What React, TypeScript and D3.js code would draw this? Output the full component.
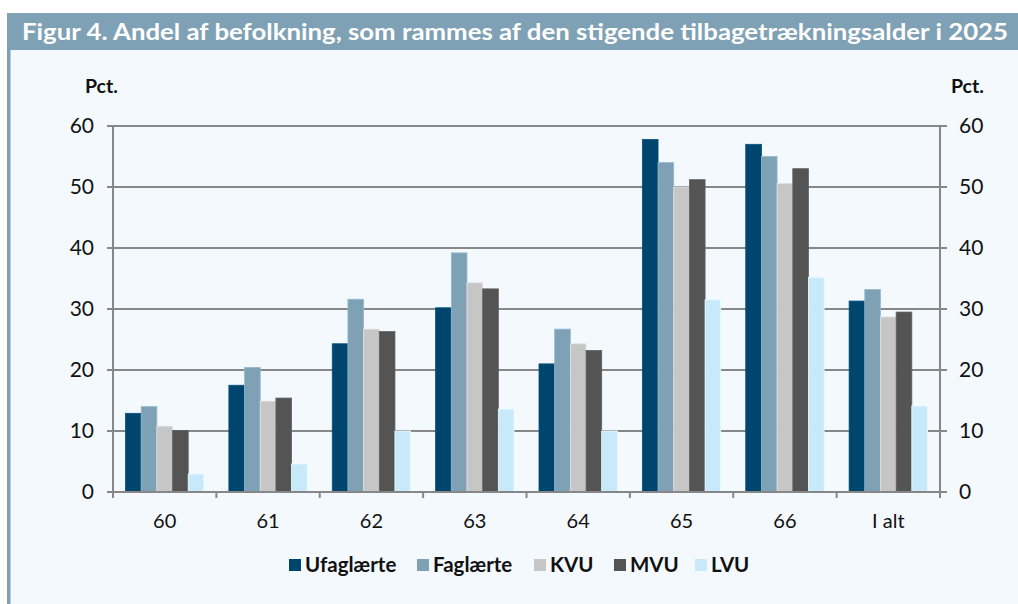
import React from "react";
import * as d3 from "d3";

const categories = ["60", "61", "62", "63", "64", "65", "66", "I alt"];
const seriesNames = ["Ufaglærte", "Faglærte", "KVU", "MVU", "LVU"];
const ufaglaerte = [12.9, 17.5, 24.3, 30.2, 21.0, 57.8, 57.0, 31.3];
const faglaerte = [14.0, 20.4, 31.6, 39.2, 26.7, 54.0, 55.0, 33.2];
const kvu = [10.8, 14.9, 26.7, 34.3, 24.3, 50.0, 50.6, 28.7];
const mvu = [10.1, 15.4, 26.3, 33.3, 23.2, 51.2, 53.0, 29.5];
const lvu = [2.95, 4.6, 10.0, 13.6, 10.0, 31.5, 35.2, 14.1];
const yTicks = [0, 10, 20, 30, 40, 50, 60];
const colors = ["#00456e", "#7fa1b6", "#c6c6c6", "#545454", "#c8e9f9"];
const title = "Figur 4. Andel af befolkning, som rammes af den stigende tilbagetrækningsalder i 2025";

export default function App() {
  const W = 1018, H = 604;
  const left = 113, right = 940, top = 126, bottom = 492;
  const series = [ufaglaerte, faglaerte, kvu, mvu, lvu];
  const x = d3.scaleBand<string>().domain(categories).range([left, right]).paddingInner(0).paddingOuter(0);
  const inner = d3.scaleBand<number>().domain(d3.range(seriesNames.length)).range([12.5, x.bandwidth() - 12.5]);
  const y = d3.scaleLinear().domain([0, 60]).range([bottom, top]);
  const font = "Lato, 'Open Sans', sans-serif";
  const grid = "#878787";
  const legendX = [289, 417, 534, 614, 695];

  return (
    <svg width={W} height={H} style={{ position: "absolute", left: 0, top: 0, display: "block" }}>
      <rect x={0} y={0} width={W} height={H} fill="#ffffff" />
      <rect x={7} y={50} width={W - 7} height={H - 50} fill="#f4f9fe" />
      <rect x={7} y={50} width={3.5} height={H - 50} fill="#7fa1b5" />
      <rect x={7} y={13} width={W - 7} height={37} fill="#7fa1b5" />
      <text x={22} y={40} fill="#ffffff" fontFamily={font} fontWeight={700} fontSize={23}
        textLength={986} lengthAdjust="spacingAndGlyphs">{title}</text>

      <text x={85} y={93} fontFamily={font} fontWeight={700} fontSize={19.5} fill="#111">Pct.</text>
      <text x={951} y={93} fontFamily={font} fontWeight={700} fontSize={19.5} fill="#111">Pct.</text>

      {yTicks.map((t) => (
        <g key={t}>
          <line x1={left - 6} x2={right + 7} y1={y(t)} y2={y(t)} stroke={grid} strokeWidth={2} />
          <text x={94} y={y(t)} dy="0.35em" textAnchor="end" fontFamily={font} fontSize={21} fill="#111">{t}</text>
          <text x={959} y={y(t)} dy="0.35em" textAnchor="start" fontFamily={font} fontSize={21} fill="#111">{t}</text>
        </g>
      ))}

      {categories.map((c, i) => (
        <g key={c}>
          {series.map((s, j) => (
            <rect key={j} x={(x(c) as number) + (inner(j) as number)} y={y(s[i])}
              width={inner.bandwidth()} height={bottom - y(s[i])} fill={colors[j]}
              stroke={d3.color(colors[j])!.brighter(0.4).toString()} strokeWidth={0.8} />
          ))}
          <text x={(x(c) as number) + x.bandwidth() / 2} y={521} dy="0.35em" textAnchor="middle"
            fontFamily={font} fontSize={20} fill="#111">{c}</text>
        </g>
      ))}

      {[...categories.map((c) => x(c) as number), right].map((v, i) => (
        <line key={i} x1={v} x2={v} y1={bottom} y2={bottom + 6} stroke={grid} strokeWidth={2} />
      ))}
      <line x1={left} x2={left} y1={top - 1} y2={bottom + 1} stroke={grid} strokeWidth={2} />
      <line x1={right} x2={right} y1={top - 1} y2={bottom + 1} stroke={grid} strokeWidth={2} />
      <line x1={left - 6} x2={right + 7} y1={bottom} y2={bottom} stroke={grid} strokeWidth={2} />

      {seriesNames.map((n, j) => (
        <g key={n}>
          <rect x={legendX[j]} y={559} width={12} height={12} fill={colors[j]} />
          <text x={legendX[j] + 16} y={565} dy="0.36em" fontFamily={font} fontWeight={700} fontSize={20.5} fill="#111">{n}</text>
        </g>
      ))}
    </svg>
  );
}
